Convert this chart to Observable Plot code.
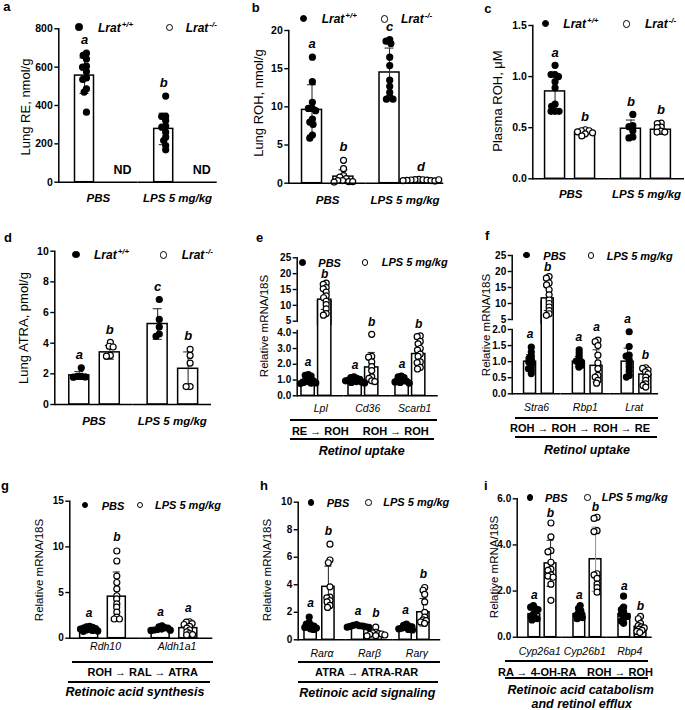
<!DOCTYPE html>
<html>
<head>
<meta charset="utf-8">
<script src="https://cdn.jsdelivr.net/npm/d3@7"></script>
<script src="https://cdn.jsdelivr.net/npm/@observablehq/plot@0.6"></script>
<style>
  html, body { margin: 0; padding: 0; background: #fff; }
  #fig { position: relative; width: 685px; height: 710px; overflow: hidden; background: #fff;
         font-family: "Liberation Sans", Arial, Helvetica, sans-serif; color: #000; }
  .svgbox { position: absolute; }
  .svgbox svg { display: block; overflow: hidden; background: transparent; }
  .lab { position: absolute; white-space: nowrap; line-height: 1; z-index: 5; }
  .sup { font-size: 8px; position: relative; top: -5px; margin-left: 1px; }
  .big svg g[aria-label="y-axis tick label"], .big svg g[aria-label="y-axis tick label"] text { font-size: 10.5px !important; font-weight: bold !important; }
  .big svg g[aria-label="fx-axis tick label"] { font-size: 11.5px; font-weight: bold; font-style: italic; }
  .gene svg g[aria-label="y-axis tick label"], .gene svg g[aria-label="y-axis tick label"] text { font-size: 10px !important; font-weight: bold !important; }
  .gene svg g[aria-label="fx-axis tick label"] { font-size: 10.5px; font-style: italic; }
</style>
</head>
<body>
<div id="fig"></div>
<script>
// ======================= DATA =======================
const genotypes = ["+/+", "-/-"];
const treatments = ["PBS", "LPS"];
const treatGroups = ["PBS", "LPS 5 mg/kg"];
const genoLegend = ["<i>Lrat</i><span class='sup'>+/+</span>", "<i>Lrat</i><span class='sup'>-/-</span>"];
const treatLegend = ["PBS", "LPS 5 mg/kg"];

// bars: [group, condition, mean, SD, letter, individual values, (optional) SD bar colour]
const aTitle = "Lung RE, nmol/g";
const aTicks = [0, 200, 400, 600, 800];
const aBars = [
  ["PBS", "+/+", 556, 93, "a", [673, 661, 643, 605, 600, 577, 544, 536, 487, 470, 365]],
  ["LPS 5 mg/kg", "+/+", 278, 82, "b", [449, 344, 343, 322, 292, 287, 261, 235, 217, 191, 169]]
];
const aNotDetected = [["PBS", "-/-", "ND"], ["LPS 5 mg/kg", "-/-", "ND"]];

const bTitle = "Lung ROH, nmol/g";
const bTicks = [0, 5, 10, 15, 20];
const bBars = [
  ["PBS", "+/+", 9.6, 3.3, "a", [16.5, 13.3, 10.6, 9.8, 9.8, 9.5, 8.4, 8.0, 7.7, 6.3, 5.9]],
  ["PBS", "-/-", 0.86, 0.9, "b", [3.0, 1.9, 1.0, 0.8, 0.6, 0.35, 0.35, 0.2, 0.2, 0.15]],
  ["LPS 5 mg/kg", "+/+", 14.5, 3.2, "c", [18.8, 18.6, 18.3, 16.5, 15.4, 13.5, 12.7, 11.9, 11.3, 11.0, 11.0]],
  ["LPS 5 mg/kg", "-/-", 0.4, 0.07, "d", [0.5, 0.48, 0.45, 0.42, 0.4, 0.38, 0.35, 0.33, 0.3, 0.45]]
];

const cTitle = "Plasma ROH, μM";
const cTicks = [0, 0.5, 1.0, 1.5];
const cBars = [
  ["PBS", "+/+", 0.855, 0.17, "a", [1.11, 1.02, 1.02, 1.00, 0.95, 0.89, 0.73, 0.71, 0.66, 0.66, 0.66]],
  ["PBS", "-/-", 0.455, 0.02, "b", [0.48, 0.47, 0.47, 0.46, 0.45, 0.44, 0.42]],
  ["LPS 5 mg/kg", "+/+", 0.49, 0.085, "b", [0.63, 0.52, 0.51, 0.47, 0.41, 0.40]],
  ["LPS 5 mg/kg", "-/-", 0.48, 0.04, "b", [0.545, 0.54, 0.505, 0.50, 0.466, 0.457, 0.457]]
];

const dTitle = "Lung ATRA, pmol/g";
const dTicks = [0, 2, 4, 6, 8, 10];
const dBars = [
  ["PBS", "+/+", 1.9, 0.25, "a", [2.39, 1.83, 1.83, 1.80, 1.78]],
  ["PBS", "-/-", 3.4, 0.45, "b", [4.05, 3.8, 3.75, 3.2, 3.15]],
  ["LPS 5 mg/kg", "+/+", 5.25, 1.0, "c", [6.85, 5.55, 5.05, 4.6, 4.45]],
  ["LPS 5 mg/kg", "-/-", 2.33, 1.1, "b", [3.6, 3.2, 2.7, 1.17, 1.17]]
];

const mrnaTitle = "Relative mRNA/18S";

const eGenes = ["Lpl", "Cd36", "Scarb1"];
const eLowDomain = [0, 4.15];
const eHighDomain = [5, 25];
const eTicksLow = [0, 1, 2, 3, 4];
const eTicksHigh = [5, 10, 15, 20, 25];
const eBars = [
  ["Lpl", "PBS", 1.0, 0.2, "a", [1.35, 1.3, 1.25, 1.15, 1.05, 1.0, 0.95, 0.9, 0.85, 0.82, 0.8, 0.78]],
  ["Lpl", "LPS", 11.8, 3.1, "b", [17.0, 16.6, 15.6, 15.2, 14.2, 13.0, 12.4, 11.3, 10.2, 8.9, 7.4, 6.9]],
  ["Cd36", "PBS", 1.0, 0.12, "a", [1.2, 1.15, 1.1, 1.05, 1.0, 1.0, 0.95, 0.9, 0.88, 0.85, 0.82]],
  ["Cd36", "LPS", 1.8, 0.95, "b", [3.9, 2.5, 2.45, 2.15, 1.85, 1.6, 1.2, 1.1, 0.95, 0.9]],
  ["Scarb1", "PBS", 1.0, 0.15, "a", [1.25, 1.2, 1.15, 1.05, 1.0, 0.95, 0.92, 0.88, 0.85, 0.8]],
  ["Scarb1", "LPS", 2.65, 0.75, "b", [3.8, 3.75, 3.45, 3.3, 3.0, 2.9, 2.65, 2.5, 2.15, 2.1, 1.8, 1.7]]
];
const ePath = ["RE → ROH", "ROH → ROH"];
const eProcess = "Retinol uptake";

const fGenes = ["Stra6", "Rbp1", "Lrat"];
const fLowDomain = [0, 2.0];
const fHighDomain = [5, 25];
const fTicksLow = [0, 0.5, 1.0, 1.5, 2.0];
const fTicksHigh = [5, 10, 15, 20, 25];
const fBars = [
  ["Stra6", "PBS", 1.0, 0.22, "a", [1.45, 1.3, 1.17, 1.1, 1.04, 0.99, 0.94, 0.83, 0.78, 0.73, 0.63]],
  ["Stra6", "LPS", 11.6, 3.8, "b", [18.4, 17.9, 16.4, 15.8, 14.3, 12.7, 11.1, 10.0, 8.9, 7.8, 6.8, 6.3]],
  ["Rbp1", "PBS", 1.0, 0.16, "a", [1.37, 1.27, 1.17, 1.06, 1.02, 0.99, 0.94, 0.89, 0.83]],
  ["Rbp1", "LPS", 0.87, 0.5, "a", [1.67, 1.62, 1.5, 1.2, 0.96, 0.78, 0.57, 0.52, 0.42, 0.33]],
  ["Lrat", "PBS", 1.0, 0.42, "a", [1.93, 1.47, 1.2, 1.17, 1.06, 0.94, 0.83, 0.71, 0.57, 0.52]],
  ["Lrat", "LPS", 0.6, 0.2, "b", [0.81, 0.79, 0.74, 0.68, 0.62, 0.52, 0.42, 0.31, 0.26, 0.21]]
];
const fPath = ["ROH → ROH → ROH → RE"];
const fProcess = "Retinol uptake";

const gGenes = ["Rdh10", "Aldh1a1"];
const gTicks = [0, 5, 10, 15];
const gBars = [
  ["Rdh10", "PBS", 1.0, 0.18, "a", [1.3, 1.25, 1.2, 1.1, 1.05, 1.0, 0.95, 0.9, 0.85, 0.8, 0.75]],
  ["Rdh10", "LPS", 4.55, 2.7, "b", [9.55, 8.45, 6.8, 6.1, 5.4, 4.65, 4.3, 3.75, 3.4, 2.85, 2.3, 2.1, 2.1]],
  ["Aldh1a1", "PBS", 1.0, 0.15, "a", [1.35, 1.25, 1.15, 1.1, 1.0, 0.95, 0.9, 0.88, 0.85]],
  ["Aldh1a1", "LPS", 1.1, 0.5, "a", [1.8, 1.75, 1.6, 1.5, 1.3, 1.1, 0.9, 0.7, 0.5, 0.4, 0.35]]
];
const gPath = ["ROH → RAL → ATRA"];
const gProcess = "Retinoic acid synthesis";

const hGenes = ["Rarα", "Rarβ", "Rarγ"];
const hTicks = [0, 2, 4, 6, 8, 10];
const hBars = [
  ["Rarα", "PBS", 1.0, 0.2, "a", [1.65, 1.25, 1.15, 1.05, 1.0, 0.95, 0.9, 0.85, 0.8, 0.75]],
  ["Rarα", "LPS", 3.85, 1.5, "b", [6.95, 5.8, 5.6, 3.85, 3.1, 3.05, 2.85, 2.75, 2.5, 2.35]],
  ["Rarβ", "PBS", 1.0, 0.07, "a", [1.1, 1.05, 1.02, 1.0, 0.98, 0.95, 0.92, 0.9]],
  ["Rarβ", "LPS", 0.45, 0.15, "b", [0.92, 0.55, 0.5, 0.45, 0.42, 0.4, 0.35, 0.3, 0.28]],
  ["Rarγ", "PBS", 0.9, 0.12, "a", [1.15, 1.05, 1.0, 0.95, 0.9, 0.85, 0.8, 0.75, 0.72]],
  ["Rarγ", "LPS", 2.0, 1.0, "b", [3.8, 3.6, 3.3, 2.75, 2.0, 1.65, 1.45, 1.4, 1.3, 1.2]]
];
const hPath = ["ATRA → ATRA-RAR"];
const hProcess = "Retinoic acid signaling";

const iGenes = ["Cyp26a1", "Cyp26b1", "Rbp4"];
const iTicks = [0, 2, 4, 6];
const iBars = [
  ["Cyp26a1", "PBS", 1.0, 0.2, "a", [1.37, 1.3, 1.25, 1.2, 1.0, 0.9, 0.85, 0.8, 0.75]],
  ["Cyp26a1", "LPS", 3.2, 1.0, "b", [4.95, 4.35, 3.75, 3.7, 3.25, 2.95, 2.9, 2.7, 2.65, 2.6, 2.3, 1.6]],
  ["Cyp26b1", "PBS", 1.0, 0.17, "a", [1.37, 1.25, 1.15, 1.05, 1.0, 0.95, 0.9, 0.85, 0.8]],
  ["Cyp26b1", "LPS", 3.38, 1.39, "b", [5.2, 5.15, 4.62, 4.58, 2.75, 2.7, 2.55, 2.3, 2.15, 1.95], "#9a9a9a"],
  ["Rbp4", "PBS", 1.0, 0.35, "a", [1.78, 1.3, 1.2, 1.1, 1.0, 0.95, 0.9, 0.8, 0.7, 0.6]],
  ["Rbp4", "LPS", 0.45, 0.2, "b", [0.9, 0.8, 0.6, 0.5, 0.45, 0.4, 0.35, 0.3, 0.25, 0.2]]
];
const iPath = ["RA → 4-OH-RA", "ROH → ROH"];
const iProcess = ["Retinoic acid catabolism", "and retinol efflux"];

// ======================= LAYOUT =======================
const LAY = {
  a:   {box: {x: 0,   y: 0,   w: 228, h: 212},  m: {t: 28.3, r: 11.3, b: 30.3, l: 58.3}, band: {pi: 0.5,   po: 0.292, al: 0.73},  fxPad: 11.2},
  b:   {box: {x: 228, y: 0,   w: 228, h: 212},  m: {t: 30,   r: 12.7, b: 29.3, l: 60.3}, band: {pi: 0.363, po: 0.416, al: 0.506}, fxPad: 12.2},
  c:   {box: {x: 456, y: 0,   w: 229, h: 212},  m: {t: 25,   r: 1,    b: 33.7, l: 76.3}, band: {pi: 0.333, po: 0.431, al: 0.474}, fxPad: 10.6},
  d:   {box: {x: 0,   y: 230, w: 228, h: 212},  m: {t: 20.7, r: 17,   b: 38,   l: 54.3}, band: {pi: 0.344, po: 0.457, al: 0.52},  fxPad: 11.9},
  eHi: {box: {x: 228, y: 248, w: 228, h: 77.3}, m: {t: 9.3,  r: 18.3, b: 4.6,  l: 68.7}, band: {pi: 0.2,   po: 0.516, al: 0.25}},
  eLo: {box: {x: 228, y: 300, w: 228, h: 115},  m: {t: 29.9, r: 18.3, b: 19.7, l: 68.7}, band: {pi: 0.2,   po: 0.516, al: 0.25},  fxPad: 9.2},
  fHi: {box: {x: 456, y: 246, w: 229, h: 78},   m: {t: 9,    r: 26.9, b: 5,    l: 55.7}, band: {pi: 0.322, po: 0.54,  al: 0.62}},
  fLo: {box: {x: 456, y: 300, w: 229, h: 113},  m: {t: 29,   r: 26.9, b: 19.7, l: 55.7}, band: {pi: 0.322, po: 0.54,  al: 0.62},  fxPad: 9.6},
  g:   {box: {x: 0,   y: 480, w: 228, h: 175},  m: {t: 20.7, r: 15.7, b: 17.3, l: 69.3}, band: {pi: 0.35,  po: 0.466, al: 0.4},   fxPad: 4.5},
  h:   {box: {x: 228, y: 480, w: 228, h: 182},  m: {t: 21.7, r: 15.8, b: 22.7, l: 69.7}, band: {pi: 0.31,  po: 0.49,  al: 0.36},  fxPad: 10.2},
  i:   {box: {x: 456, y: 480, w: 229, h: 182},  m: {t: 18.3, r: 33.3, b: 25.3, l: 60.7}, band: {pi: 0.278, po: 0.528, al: 0.66},  fxPad: 10.5}
};
const BIG = {r: 3.1, pad: -2.2, cap: 9, letterSize: 13, tickFont: 10.5, fxFont: 11.5, fxWeight: "bold", cls: "big"};
const GENE = {r: 2.7, pad: -2.2, cap: 7, letterSize: 12, tickFont: 10, fxFont: 10.5, fxWeight: "normal", cls: "gene"};

const fig = document.getElementById("fig");
const INK = "#000", ERR = "#333";
const FONT = '"Liberation Sans", Arial, Helvetica, sans-serif';

// After Plot's dodge (beeswarm) layout, re-centre each cluster on its facet middle.
function centeredSwarm(options) {
  return Plot.initializer(options, function (data, facets, channels, scales, dims) {
    const cx = channels.x;
    if (!cx || !cx.value) return {data, facets};
    const X = cx.value;
    const X2 = Float64Array.from(X);
    const mid = (dims.marginLeft + dims.width - dims.marginRight) / 2;
    for (const I of facets) {
      let lo = Infinity, hi = -Infinity;
      for (const i of I) { if (X[i] < lo) lo = X[i]; if (X[i] > hi) hi = X[i]; }
      if (!isFinite(lo)) continue;
      const shift = mid - (lo + hi) / 2;
      for (const i of I) X2[i] = X[i] + shift;
    }
    return {data, facets, channels: {x: {...cx, value: X2}}};
  });
}

function barPanel(bars, groups, conds, lay, kind, opt) {
  const {box, m, band} = lay;
  const summary = bars.map(([g, c, mean, sd, letter, pts, errColor]) => ({
    g, c, mean, sd, letter, errColor: errColor || ERR,
    lo: Math.max(0, mean - sd), hi: mean + sd, top: Math.max(mean + sd, ...pts)
  }));
  const points = bars.flatMap(([g, c, , , , pts]) => pts.map((v) => ({g, c, v})));
  const W = (box.w - m.l - m.r) / groups.length;
  const xb = d3.scaleBand(conds, [0, W]).paddingInner(band.pi).paddingOuter(band.po).align(band.al);
  const bw = xb.bandwidth();
  // Plot adds half the x bandwidth to every mark's translate; the swarm is
  // anchored at the facet middle, so shift it onto its own band centre.
  const offset = (c) => xb(c) + bw / 2 - W / 2 - bw / 2;
  const ins = Math.max(0, (bw - kind.cap) / 2);
  const inBar = opt.barFilter || (() => true);
  const inErr = opt.errFilter || (() => true);
  const inPt = opt.ptFilter || (() => true);
  const err = summary.filter(inErr);
  const marks = [
    Plot.barY(summary.filter(inBar), {fx: "g", x: "c", y1: 0, y2: "mean", fill: "white", stroke: INK, strokeWidth: 1.5}),
    Plot.ruleX(err, {fx: "g", x: "c", y1: "lo", y2: "hi", stroke: "errColor", strokeWidth: 1.1}),
    Plot.tickY(err, {fx: "g", x: "c", y: "hi", insetLeft: ins, insetRight: ins, stroke: "errColor", strokeWidth: 1.1}),
    Plot.tickY(err.filter((d) => d.mean - d.sd > 0), {fx: "g", x: "c", y: "lo", insetLeft: ins, insetRight: ins, stroke: "errColor", strokeWidth: 1.1}),
    ...conds.map((c, k) => Plot.dot(
      points.filter((p) => p.c === c && inPt(p.v)),
      centeredSwarm(Plot.dodgeX({anchor: "middle", padding: kind.pad, r: kind.r},
        {fx: "g", y: "v", fill: k === 0 ? INK : "white", stroke: INK, strokeWidth: 1.2, dx: offset(c)}))
    )),
    Plot.text(err.filter((d) => d.letter), {fx: "g", x: "c", y: "top", text: "letter", dy: opt.letterDy ?? -13,
      fontStyle: "italic", fontWeight: "bold", fontSize: kind.letterSize}),
    Plot.frame({anchor: "left", facetAnchor: "left", stroke: INK, strokeWidth: 1.5}),
    Plot.axisY({ticks: opt.ticks, tickFormat: opt.fmt, tickSize: 4, tickPadding: 2, stroke: INK, strokeWidth: 1.4,
      label: null, fontWeight: "bold", fontSize: kind.tickFont})
  ];
  if (opt.base) marks.push(Plot.ruleY([opt.domain[0]], {stroke: INK, strokeWidth: 1.5}));
  if (opt.fx) marks.push(Plot.axisFx({anchor: "bottom", tickSize: 0, tickPadding: lay.fxPad, label: null,
    fontStyle: "italic", fontWeight: kind.fxWeight, fontSize: kind.fxFont}));
  if (opt.nd) marks.push(Plot.text(opt.nd.map(([g, c, t]) => ({g, c, t})),
    {fx: "g", x: "c", y: opt.domain[0], text: "t", dy: -12.5, fontWeight: "bold", fontSize: 12.5}));

  const svg = Plot.plot({
    width: box.w, height: box.h,
    marginTop: m.t, marginRight: m.r, marginBottom: m.b, marginLeft: m.l,
    style: `background:transparent;overflow:hidden;font-family:${FONT};font-size:10px;color:#000;`,
    fx: {domain: groups, paddingInner: 0, paddingOuter: 0, round: false, axis: null, label: null},
    x: {domain: conds, paddingInner: band.pi, paddingOuter: band.po, align: band.al, round: false, axis: null},
    y: {domain: opt.domain, nice: false},
    marks
  });
  const wrap = document.createElement("div");
  wrap.className = "svgbox " + kind.cls;
  Object.assign(wrap.style, {left: box.x + "px", top: box.y + "px", width: box.w + "px", height: box.h + "px", zIndex: opt.z || 1});
  wrap.appendChild(svg);
  fig.appendChild(wrap);
}

const fmt1 = d3.format(".1f");

barPanel(aBars, treatGroups, genotypes, LAY.a, BIG, {domain: [0, 800], ticks: aTicks, base: true, fx: true, nd: aNotDetected});
barPanel(bBars, treatGroups, genotypes, LAY.b, BIG, {domain: [0, 20], ticks: bTicks, base: true, fx: true});
barPanel(cBars, treatGroups, genotypes, LAY.c, BIG, {domain: [0, 1.5], ticks: cTicks, fmt: fmt1, base: true, fx: true});
barPanel(dBars, treatGroups, genotypes, LAY.d, BIG, {domain: [0, 10], ticks: dTicks, base: true, fx: true});
barPanel(eBars, eGenes, treatments, LAY.eLo, GENE, {domain: eLowDomain, ticks: eTicksLow, base: true, fx: true, z: 1, letterDy: -12,
  errFilter: (d) => d.mean <= eLowDomain[1], ptFilter: (v) => v <= eLowDomain[1]});
barPanel(eBars, eGenes, treatments, LAY.eHi, GENE, {domain: eHighDomain, ticks: eTicksHigh, base: false, fx: false, z: 2, letterDy: -9,
  barFilter: (d) => d.mean > eHighDomain[0], errFilter: (d) => d.mean > eHighDomain[0], ptFilter: (v) => v > eHighDomain[0]});
barPanel(fBars, fGenes, treatments, LAY.fLo, GENE, {domain: fLowDomain, ticks: fTicksLow, fmt: fmt1, base: true, fx: true, z: 1,
  errFilter: (d) => d.mean <= fLowDomain[1], ptFilter: (v) => v <= fLowDomain[1]});
barPanel(fBars, fGenes, treatments, LAY.fHi, GENE, {domain: fHighDomain, ticks: fTicksHigh, base: false, fx: false, z: 2, letterDy: -9,
  barFilter: (d) => d.mean > fHighDomain[0], errFilter: (d) => d.mean > fHighDomain[0], ptFilter: (v) => v > fHighDomain[0]});
barPanel(gBars, gGenes, treatments, LAY.g, GENE, {domain: [0, 15], ticks: gTicks, base: true, fx: true, letterDy: -13.5});
barPanel(hBars, hGenes, treatments, LAY.h, GENE, {domain: [0, 10], ticks: hTicks, base: true, fx: true, letterDy: -13.5});
barPanel(iBars, iGenes, treatments, LAY.i, GENE, {domain: [0, 6], ticks: iTicks, base: true, fx: true, letterDy: -10});

// ======================= HTML annotations =======================
function addText(html, x, y, css, mode) {
  const el = document.createElement("div");
  el.className = "lab";
  el.innerHTML = html;
  el.style.cssText += css;
  el.style.left = x + "px";
  el.style.top = y + "px";
  if (mode === "c") el.style.transform = "translate(-50%,-50%)";
  else if (mode === "l") el.style.transform = "translate(0,-50%)";
  else if (mode === "rot") el.style.transform = "translate(-50%,-50%) rotate(-90deg)";
  fig.appendChild(el);
}
function addSym(x, y, filled, d) {
  const el = document.createElement("div");
  el.style.cssText = `position:absolute;left:${x - d / 2}px;top:${y - d / 2}px;width:${d}px;height:${d}px;border-radius:50%;box-sizing:border-box;border:1.3px solid #000;background:${filled ? "#000" : "#fff"};z-index:5`;
  fig.appendChild(el);
}
function addLine(y, x1, x2) {
  const el = document.createElement("div");
  el.style.cssText = `position:absolute;left:${x1}px;top:${y - 0.85}px;width:${x2 - x1}px;height:1.7px;background:#000;z-index:5`;
  fig.appendChild(el);
}

// panel letters (baseline placement)
[["a", 3.3, 11], ["b", 251.7, 11.7], ["c", 484.3, 12.7], ["d", 4, 241.7], ["e", 256, 241.7],
 ["f", 485, 240], ["g", 1, 490], ["h", 260, 490], ["i", 484, 490]].forEach(([t, x, y]) =>
  addText(t, x, y - 0.8465 * 13, "font-size:13px;font-weight:bold;", null));

// y-axis titles
[[aTitle, 25, 106.7, 13], [bTitle, 258.3, 103.3, 13], [cTitle, 496.7, 100.8, 13], [dTitle, 23.3, 328.3, 13],
 [mrnaTitle, 265, 325.8, 11.5], [mrnaTitle, 486.7, 325, 11.5], [mrnaTitle, 40, 570, 11.5],
 [mrnaTitle, 268.3, 570, 11.5], [mrnaTitle, 495, 566.7, 11.5]].forEach(([t, x, y, s]) =>
  addText(t, x, y, `font-size:${s}px;`, "rot"));

// legends
[[79, 27, 98, 169.3, 27.5, 185.7, genoLegend, 12, 7.2],
 [303.3, 18.5, 321.7, 384.3, 19, 401, genoLegend, 12, 7.2],
 [545.7, 23.5, 563.3, 626.7, 24, 645, genoLegend, 12, 7.2],
 [76, 254.3, 94, 163.3, 255, 181.7, genoLegend, 12, 7.2],
 [302.3, 262.3, 318.3, 365, 262.3, 381.7, treatLegend, 11, 6.5],
 [526.7, 255, 543.3, 591, 255.7, 606.7, treatLegend, 11, 6.5],
 [85, 505, 101.7, 140, 505, 155, treatLegend, 11, 6.5],
 [311, 502.3, 326.7, 368.3, 502.3, 383.3, treatLegend, 11, 6.5],
 [530, 497.3, 545, 587.3, 497.3, 601.7, treatLegend, 11, 6.5]].forEach(([x1, y1, t1, x2, y2, t2, labs, fs, d]) => {
  addSym(x1, y1, true, d);
  addSym(x2, y2, false, d);
  const css = `font-size:${fs}px;font-weight:bold;font-style:italic;`;
  addText(labs[0], t1, y1 + 0.5, css, "l");
  addText(labs[1], t2, y2, css, "l");
});

// pathway annotations under gene panels
const pathCss = "font-size:11px;font-weight:bold;";
const procCss = "font-size:12.5px;font-weight:bold;font-style:italic;";
addLine(420, 290, 437); addLine(439.3, 290, 434.3);
addText(ePath[0], 320.3, 430.7, pathCss, "c"); addText(ePath[1], 395.7, 430.7, pathCss, "c");
addText(eProcess, 361.7, 450.7, procCss, "c");
addLine(418.3, 515, 658); addLine(437.3, 515, 657);
addText(fPath[0], 580, 428.3, pathCss, "c");
addText(fProcess, 587, 450, procCss, "c");
addLine(661.7, 71.7, 213.3); addLine(682.3, 68, 210);
addText(gPath[0], 142.7, 671.7, pathCss, "c");
addText(gProcess, 135, 691.7, procCss, "c");
addLine(661.7, 298, 440); addLine(681.7, 298, 438);
addText(hPath[0], 366.7, 671.7, pathCss, "c");
addText(hProcess, 367.3, 692.7, procCss, "c");
addLine(660.7, 505, 647.7); addLine(678.3, 505, 647.7);
addText(iPath[0], 537.3, 671.7, pathCss, "c"); addText(iPath[1], 620, 671.7, pathCss, "c");
addText(iProcess[0], 580.7, 690, procCss, "c");
addText(iProcess[1], 581.7, 704, procCss, "c");
</script>
</body>
</html>
